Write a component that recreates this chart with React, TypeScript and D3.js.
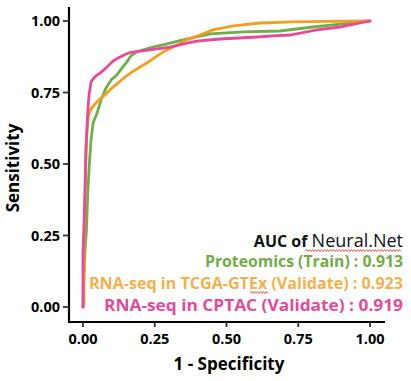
import React from "react";
import * as d3 from "d3";

const tickValues = [0, 0.25, 0.5, 0.75, 1];
const tickLabels = ["0.00", "0.25", "0.50", "0.75", "1.00"];

const seriesNames = ["Proteomics (Train) : 0.913", "RNA-seq in TCGA-GTEx (Validate) : 0.923", "RNA-seq in CPTAC (Validate) : 0.919"];

const proteomicsFpr = [0, 0.003, 0.007, 0.012, 0.017, 0.023, 0.028, 0.035, 0.049, 0.063, 0.08, 0.098, 0.118, 0.136, 0.153, 0.167, 0.188, 0.233, 0.293, 0.348, 0.443, 0.557, 0.686, 0.801, 0.906, 1];
const proteomicsTpr = [0, 0.094, 0.199, 0.269, 0.409, 0.514, 0.584, 0.643, 0.678, 0.724, 0.766, 0.794, 0.811, 0.836, 0.857, 0.878, 0.892, 0.906, 0.92, 0.934, 0.955, 0.962, 0.965, 0.979, 0.99, 1];

const tcgaFpr = [0, 0.003, 0.003, 0.007, 0.01, 0.014, 0.019, 0.028, 0.042, 0.059, 0.08, 0.101, 0.122, 0.146, 0.171, 0.199, 0.233, 0.258, 0.293, 0.321, 0.362, 0.408, 0.453, 0.523, 0.617, 0.732, 0.85, 1];
const tcgaTpr = [0, 0.01, 0.199, 0.374, 0.514, 0.619, 0.671, 0.692, 0.71, 0.727, 0.745, 0.766, 0.783, 0.804, 0.822, 0.839, 0.86, 0.878, 0.899, 0.913, 0.934, 0.951, 0.969, 0.983, 0.993, 0.997, 0.999, 1];

const cptacFpr = [0, 0, 0.003, 0.007, 0.01, 0.017, 0.021, 0.028, 0.035, 0.045, 0.059, 0.073, 0.087, 0.105, 0.122, 0.143, 0.164, 0.199, 0.233, 0.303, 0.362, 0.397, 0.477, 0.606, 0.662, 0.721, 0.815, 0.895, 0.948, 1];
const cptacTpr = [0, 0.189, 0.269, 0.409, 0.549, 0.689, 0.741, 0.787, 0.797, 0.808, 0.818, 0.829, 0.843, 0.86, 0.871, 0.881, 0.89, 0.895, 0.899, 0.909, 0.923, 0.93, 0.937, 0.944, 0.948, 0.951, 0.969, 0.979, 0.99, 1];

const lineColors = ["#6DB04A", "#F59E1E", "#EA4898"];
const textColors = ["#70AD47", "#F5B04A", "#E8489A"];

const FONT = "'Open Sans', 'DejaVu Sans', sans-serif";

function wavy(x0: number, x1: number, y: number): string {
  let d = `M${x0},${y}`;
  let up = true;
  for (let x = x0 + 1.5; x <= x1; x += 1.5) {
    d += ` L${x},${y + (up ? -1 : 1)}`;
    up = !up;
  }
  return d;
}

export default function App() {
  const x = d3.scaleLinear().domain([0, 1]).range([83, 370]);
  const y = d3.scaleLinear().domain([0, 1]).range([307, 21]);
  const line = d3
    .line<[number, number]>()
    .x((d) => x(d[0]))
    .y((d) => y(d[1]));

  const series: [number, number][][] = [
    proteomicsFpr.map((f, i) => [f, proteomicsTpr[i]] as [number, number]),
    tcgaFpr.map((f, i) => [f, tcgaTpr[i]] as [number, number]),
    cptacFpr.map((f, i) => [f, cptacTpr[i]] as [number, number]),
  ];

  const axisX = 69;
  const axisY = 322;

  const legendRight = 403;
  const legendBaselines = [267, 288.5, 310.5];
  const legendWidths = [198, 314, 299];

  return (
    <div style={{ position: "absolute", left: 0, top: 0 }}>
      <svg width={411} height={381} style={{ display: "block", background: "#fff" }}>
        <rect width={411} height={381} fill="#fff" />
        {series.map((s, i) => (
          <path
            key={i}
            d={line(s) || ""}
            fill="none"
            stroke={lineColors[i]}
            strokeWidth={2.8}
            strokeLinejoin="round"
            strokeLinecap="round"
          />
        ))}
        <line x1={axisX} x2={axisX} y1={7} y2={axisY + 1} stroke="#000" strokeWidth={2.2} />
        <line x1={axisX - 1} x2={385} y1={axisY} y2={axisY} stroke="#000" strokeWidth={2.2} />
        {tickValues.map((v, i) => (
          <g key={"y" + i}>
            <line x1={axisX - 6} x2={axisX} y1={y(v)} y2={y(v)} stroke="#333" strokeWidth={1.8} />
            <text
              x={axisX - 9}
              y={y(v)}
              dy="0.36em"
              textAnchor="end"
              fontFamily={FONT}
              fontWeight={700}
              fontSize={14.5}
              fill="#000"
            >
              {tickLabels[i]}
            </text>
          </g>
        ))}
        {tickValues.map((v, i) => (
          <g key={"x" + i}>
            <line x1={x(v)} x2={x(v)} y1={axisY} y2={axisY + 5} stroke="#333" strokeWidth={1.8} />
            <text
              x={x(v)}
              y={343.5}
              textAnchor="middle"
              fontFamily={FONT}
              fontWeight={700}
              fontSize={14.5}
              fill="#000"
            >
              {tickLabels[i]}
            </text>
          </g>
        ))}
        <text
          x={229}
          y={370}
          textAnchor="middle"
          fontFamily={FONT}
          fontWeight={700}
          fontSize={17}
          fill="#000"
        >
          1 - Specificity
        </text>
        <text
          transform="translate(19,168) rotate(-90)"
          textAnchor="middle"
          fontFamily={FONT}
          fontWeight={700}
          fontSize={17}
          fill="#000"
        >
          Sensitivity
        </text>
        <text
          x={legendRight}
          y={247}
          textAnchor="end"
          fontFamily={FONT}
          fill="#111"
        >
          <tspan fontWeight={700} fontSize={16}>AUC of </tspan>
          <tspan fontWeight={400} fontSize={18}>Neural.Net</tspan>
        </text>
        <path d={wavy(305, 402, 250.5)} fill="none" stroke="#E0302A" strokeWidth={0.8} />
        {seriesNames.map((name, i) => (
          <text
            key={"l" + i}
            x={legendRight - legendWidths[i]}
            y={legendBaselines[i]}
            textLength={legendWidths[i]}
            lengthAdjust="spacingAndGlyphs"
            fontFamily={FONT}
            fontWeight={700}
            fontSize={15.5}
            fill={textColors[i]}
          >
            {name}
          </text>
        ))}
        <path d={wavy(250, 268, 292.5)} fill="none" stroke="#E0302A" strokeWidth={0.8} />
      </svg>
    </div>
  );
}
